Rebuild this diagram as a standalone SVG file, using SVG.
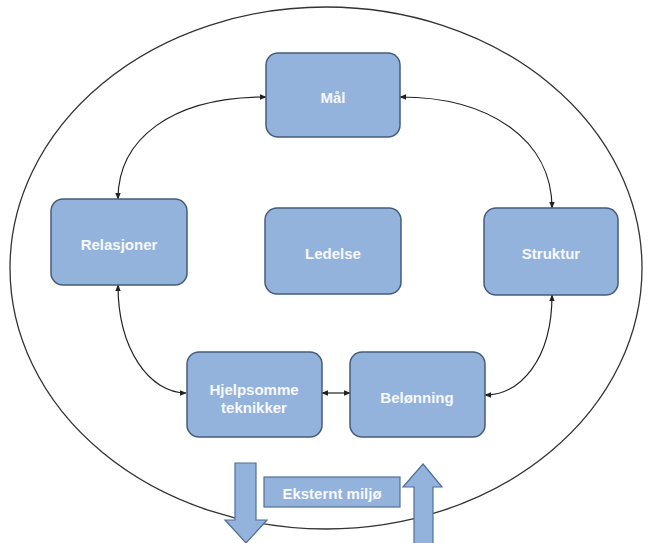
<svg xmlns="http://www.w3.org/2000/svg" width="648" height="543" viewBox="0 0 648 543">
  <style>
    .box { fill: #94b3dc; stroke: #445c7a; stroke-width: 1.5; }
    .lbl { font-family: "Liberation Sans", Arial, sans-serif; font-size: 15px; font-weight: bold; fill: #f7f9fc; text-anchor: middle; dominant-baseline: central; }
    .conn { fill: none; stroke: #222; stroke-width: 1.2; marker-start: url(#head); marker-end: url(#head); }
    .block { fill: #94b3dc; stroke: #4f6f96; stroke-width: 1.2; }
  </style>
  <defs>
    <marker id="head" viewBox="0 0 10 10" refX="9" refY="5" markerWidth="7" markerHeight="7" orient="auto-start-reverse" markerUnits="userSpaceOnUse">
      <path d="M0,1 L10,5 L0,9 Z" fill="#222"/>
    </marker>
  </defs>
  <rect width="648" height="543" fill="#ffffff"/>

  <!-- outer boundary -->
  <ellipse id="environment" cx="326" cy="268" rx="316" ry="261" fill="none" stroke="#333" stroke-width="1.3"/>

  <!-- connectors -->
  <g id="connectors">
    <path class="conn" d="M118,199 C118,140 170,97 266,97"/>
    <path class="conn" d="M552,208 C552,140 490,97 400,97"/>
    <path class="conn" d="M118,285 C118,350 150,393 186,393"/>
    <path class="conn" d="M552,295 C552,360 520,395 485,395"/>
    <path class="conn" d="M322,393 L350,393"/>
  </g>

  <g id="maal">
    <rect class="box" x="266" y="53" width="134" height="84" rx="12"/>
    <text class="lbl" x="333" y="97">Mål</text>
  </g>
  <g id="relasjoner">
    <rect class="box" x="51" y="199" width="136" height="86" rx="12"/>
    <text class="lbl" x="119" y="244">Relasjoner</text>
  </g>
  <g id="ledelse">
    <rect class="box" x="265" y="208" width="136" height="86" rx="12"/>
    <text class="lbl" x="333" y="253">Ledelse</text>
  </g>
  <g id="struktur">
    <rect class="box" x="484" y="208" width="134" height="87" rx="12"/>
    <text class="lbl" x="551" y="253">Struktur</text>
  </g>
  <g id="hjelpsomme">
    <rect class="box" x="187" y="352" width="135" height="85" rx="12"/>
    <text class="lbl" x="254" y="389">Hjelpsomme</text>
    <text class="lbl" x="254" y="407">teknikker</text>
  </g>
  <g id="belonning">
    <rect class="box" x="350" y="352" width="135" height="85" rx="12"/>
    <text class="lbl" x="417" y="397">Belønning</text>
  </g>

  <g id="eksternt">
    <rect class="block" x="264" y="477" width="136" height="30"/>
    <text class="lbl" x="332" y="493">Eksternt miljø</text>
  </g>
  <g id="pil-ned">
    <path class="block" d="M235,463 L256,463 L256,520 L267,520 L246,543 L225,520 L235,520 Z"/>
  </g>
  <g id="pil-opp">
    <path class="block" d="M423,464 L442,487 L433,487 L433,545 L414,545 L414,487 L403,487 Z"/>
  </g>
</svg>
